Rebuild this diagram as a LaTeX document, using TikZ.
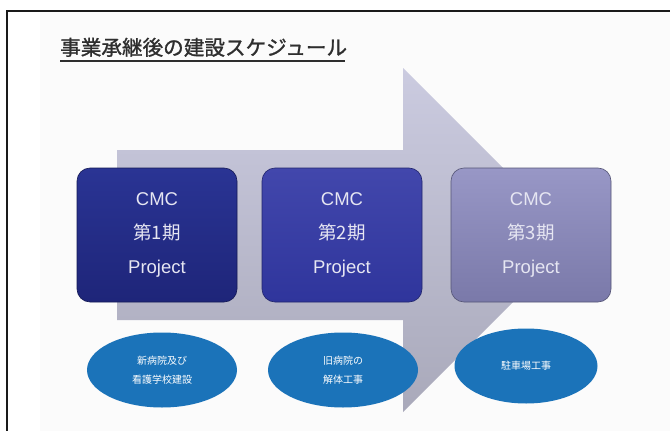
\documentclass[tikz,border=0pt]{standalone}
\usepackage{fontspec}
\setmainfont{Liberation Sans}
\newfontfamily\cjk{Noto Sans CJK JP}
\newfontfamily\cjkb{Noto Sans CJK JP}[FakeBold=1.2]
\usetikzlibrary{shapes.geometric}
\definecolor{frame}{HTML}{1A1A1A}
\definecolor{titlec}{HTML}{2E2E2E}
\definecolor{boxA}{HTML}{1E2579}
\definecolor{boxAt}{HTML}{2A3494}
\definecolor{boxB}{HTML}{2F359C}
\definecolor{boxBt}{HTML}{4247AC}
\definecolor{boxC}{HTML}{7A79A9}
\definecolor{boxCt}{HTML}{9897C6}
\definecolor{ovalc}{HTML}{1B73B9}
\definecolor{arrowtop}{HTML}{CBCBE0}
\definecolor{arrowbot}{HTML}{A9A9BA}
\definecolor{boxtext}{HTML}{E6E6F2}
\tikzset{
  phase/.style={rounded corners=13pt, minimum width=160pt, minimum height=134pt,
    draw=#1!70!black, line width=0.6pt, text=boxtext, align=center,
    font=\fontsize{18.5}{34}\selectfont, inner sep=0pt},
  oval/.style={ellipse, fill=ovalc, minimum width=150pt, minimum height=75pt,
    text=white, align=center, font=\cjk\fontsize{10}{19}\selectfont, inner sep=0pt},
}
\begin{document}
\begin{tikzpicture}[x=1pt,y=-1pt]
\useasboundingbox (0,0) rectangle (670,431);
\fill[white] (0,0) rectangle (670,431);
\fill[black!1.5] (40,12) rectangle (670,431);
% frame
\draw[frame, line width=1.2pt] (7,431) -- (7,11) -- (670,11);
% title
\node[anchor=south west, inner sep=0pt, text=titlec, font=\cjkb\fontsize{20.6}{24}\selectfont] (title) at (60,57) {事業承継後の建設スケジュール};
\draw[titlec, line width=1.2pt] (title.south west) ++(0,4) -- ++(285,0);
% arrow
\shade[top color=arrowtop, bottom color=arrowbot]
  (117,150) -- (403,150) -- (403,68) -- (575,240) -- (403,412) -- (403,320) -- (117,320) -- cycle;
% boxes
\node[phase=boxA, top color=boxAt, bottom color=boxA] (p1) at (157,235) {CMC\\{\cjk 第1期}\\Project};
\node[phase=boxB, top color=boxBt, bottom color=boxB] (p2) at (342,235) {CMC\\{\cjk 第2期}\\Project};
\node[phase=boxC, top color=boxCt, bottom color=boxC] (p3) at (531,235) {CMC\\{\cjk 第3期}\\Project};
% ovals
\node[oval] (o1) at (162,370) {新病院及び\\看護学校建設};
\node[oval] (o2) at (343,370) {旧病院の\\解体工事};
\node[oval, minimum width=143pt] (o3) at (526,366) {駐車場工事};
\end{tikzpicture}
\end{document}
